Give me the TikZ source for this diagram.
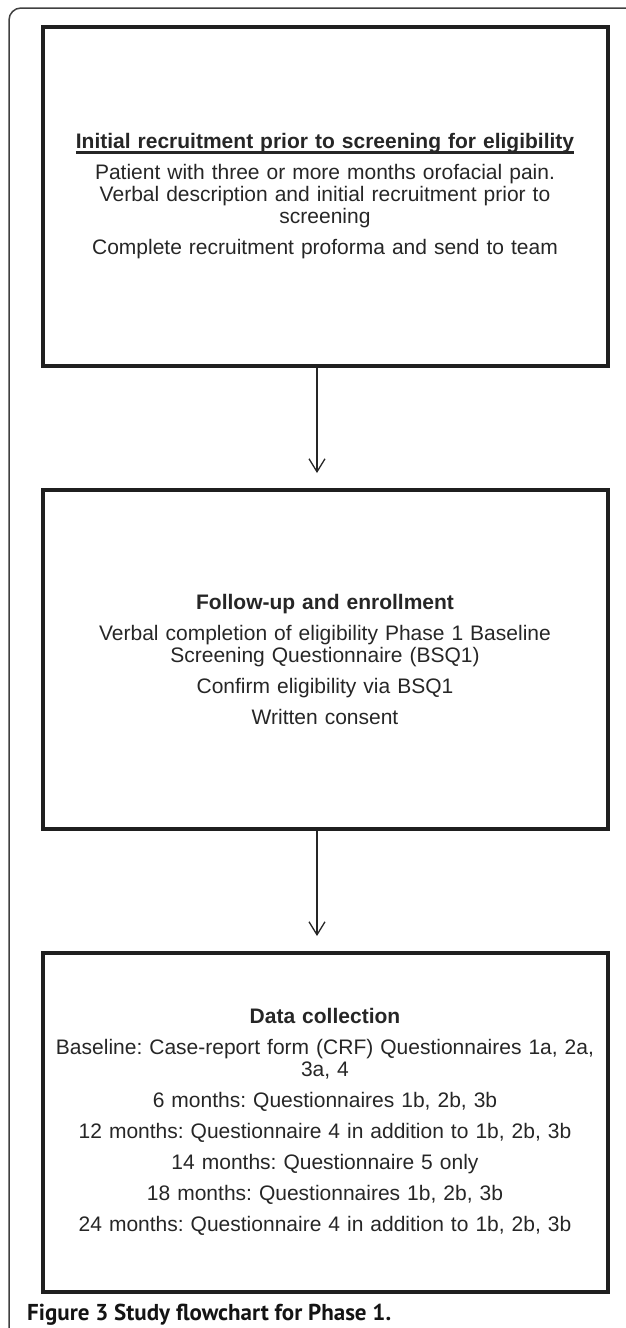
\documentclass[tikz,border=0pt]{standalone}
\usepackage{fontspec}
\setmainfont{Liberation Sans}
\newfontfamily\capfont{PT Sans}
\usetikzlibrary{positioning,arrows.meta}
\frenchspacing

\newcommand{\pargap}{9pt}
\newcommand{\headline}[1]{\setbox0\hbox{#1}\rlap{\rule[-5pt]{\wd0}{2.4pt}}\box0}

\begin{document}
\begin{tikzpicture}[x=1pt, y=-1pt,
    stage/.style={draw=black!88, line width=4pt, minimum width=565pt, minimum height=338.5pt,
                  text width=560pt, align=center, inner sep=0pt, text=black!85,
                  font=\fontsize{21}{22}\selectfont},
    flow/.style={-{Straight Barb[length=13pt,width=16pt]}, line width=1.3pt, black!85}]

  \useasboundingbox (0,0) rectangle (625,1328);

  % frame
  \draw [black!75, line width=1.5pt, rounded corners=12pt] (9,1330) -- (9,8) -- (627,8);

  % nodes
  \node [stage] (recruit) at (325,196.25) {%
    \headline{\textbf{Initial recruitment prior to screening for eligibility}}\\[\pargap]
    Patient with three or more months orofacial pain.\\
    Verbal description and initial recruitment prior to\\
    screening\\[\pargap]
    Complete recruitment proforma and send to team};
  \node [stage, below=120.5pt of recruit] (enrol) {%
    \textbf{Follow-up and enrollment}\\[\pargap]
    Verbal completion of eligibility Phase 1 Baseline\\
    Screening Questionnaire (BSQ1)\\[\pargap]
    Confirm eligibility via BSQ1\\[\pargap]
    Written consent};
  \node [stage, below=120.5pt of enrol] (collect) {%
    \textbf{Data collection}\\[\pargap]
    Baseline: Case-report form (CRF) Questionnaires 1a, 2a,\\
    3a, 4\\[\pargap]
    6 months: Questionnaires 1b, 2b, 3b\\[\pargap]
    12 months: Questionnaire 4 in addition to 1b, 2b, 3b\\[\pargap]
    14 months: Questionnaire 5 only\\[\pargap]
    18 months: Questionnaires 1b, 2b, 3b\\[\pargap]
    24 months: Questionnaire 4 in addition to 1b, 2b, 3b};
  \node [anchor=base west, inner sep=0pt, font=\capfont\bfseries\fontsize{23}{23}\selectfont, text=black!92]
    (caption) at (27,1320) {Figure 3 Study flowchart for Phase 1.};

  % arrows
  \draw [flow] ([xshift=-8pt]recruit.south) -- ([xshift=-8pt, yshift=15pt]enrol.north);
  \draw [flow] ([xshift=-8pt]enrol.south) -- ([xshift=-8pt, yshift=15pt]collect.north);

\end{tikzpicture}
\end{document}
